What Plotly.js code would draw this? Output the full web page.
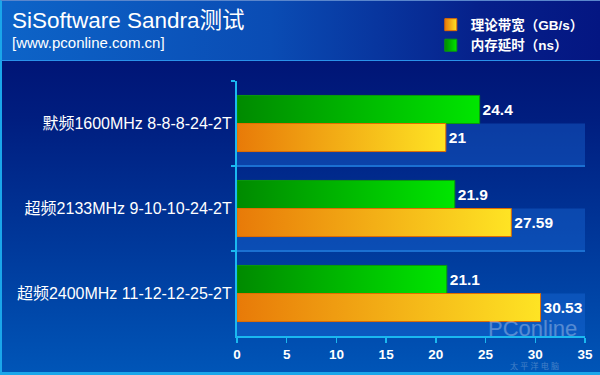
<!DOCTYPE html>
<html><head><meta charset="utf-8">
<script src="https://cdn.plot.ly/plotly-3.0.1.min.js"></script>
<style>
html,body{margin:0;padding:0;width:600px;height:375px;overflow:hidden;}
#bg{position:absolute;left:0;top:0;width:600px;height:375px;box-sizing:border-box;
 background:linear-gradient(180deg,#000c6c 0px,#001e80 120px,#003a9c 250px,#0056b8 375px);
 border-left:2px solid #1aa6ea;border-bottom:3px solid #1aa6ea;border-top:1px solid #5a86cc;}
#hdr{position:absolute;left:0;top:0;width:600px;height:61px;
 background:linear-gradient(90deg,#0d64c8 0%,#0a4cb4 45%,#06208a 80%,#041682 100%);
 border-bottom:1px solid #2a92ea;box-sizing:border-box;border-left:2px solid #1aa6ea;border-top:1px solid #5a86cc;}
#chart{position:absolute;left:0;top:0;width:600px;height:375px;}
</style></head>
<body>
<div id="bg"></div><div id="hdr"></div>
<div id="chart"></div>
<script>
// ---- data ----
var categories = ['默频1600MHz 8-8-8-24-2T', '超频2133MHz 9-10-10-24-2T', '超频2400MHz 11-12-12-25-2T'];
var bandwidthName = '理论带宽（GB/s）';
var bandwidth = [21, 27.59, 30.53];
var latencyName = '内存延时（ns）';
var latency = [24.4, 21.9, 21.1];
var xTicks = [0, 5, 10, 15, 20, 25, 30, 35];
var titleText = 'SiSoftware Sandra测试';
var subtitleText = '[www.pconline.com.cn]';

var FONT = '"Liberation Sans", Arial, "Noto Sans CJK SC", sans-serif';

var traces = [
 {type:'bar', orientation:'h', name:latencyName, y:categories, x:latency,
  text:latency.map(String), textposition:'outside', cliponaxis:false,
  textfont:{color:'#ffffff', size:15.5, family:FONT, weight:'bold'},
  marker:{color:'#00b800', line:{color:'#0b9a0b', width:1}}, legendrank:2},
 {type:'bar', orientation:'h', name:bandwidthName, y:categories, x:bandwidth,
  text:bandwidth.map(String), textposition:'outside', cliponaxis:false,
  textfont:{color:'#ffffff', size:15.5, family:FONT, weight:'bold'},
  marker:{color:'#f4a814', line:{color:'#e26c00', width:1}}, legendrank:1}
];

// decorative lighter bands in the lower half of each category row
var shapes = categories.map(function(c,i){
 return {type:'rect', xref:'x', yref:'y', x0:xTicks[0], x1:xTicks[xTicks.length-1], y0:i, y1:i+0.5,
  fillcolor:'rgba(30,110,220,0.38)', line:{width:0}, layer:'below'};
});

var L = 237, T = 81, W = 348, H = 255;
function px(x){return (x-L)/W;}
function py(y){return (T+H-y)/H;}

var layout = {
 width:600, height:375,
 margin:{l:L, r:600-L-W, t:T, b:375-T-H, autoexpand:false},
 paper_bgcolor:'rgba(0,0,0,0)', plot_bgcolor:'rgba(0,0,0,0)',
 barmode:'group', bargap:0.34, bargroupgap:0,
 font:{family:FONT, color:'#ffffff'},
 showlegend:true,
 legend:{xref:'container', yref:'container', x:0.718, y:0.975, xanchor:'left', yanchor:'top',
  bgcolor:'rgba(0,0,0,0)', font:{size:13.5, color:'#ffffff', family:FONT, weight:'bold'},
  tracegroupgap:0, itemwidth:30},
 xaxis:{range:[xTicks[0], xTicks[xTicks.length-1]], tickvals:xTicks, showgrid:false, zeroline:false,
  showline:true, linecolor:'#1ab8f0', linewidth:2, ticks:'outside', ticklen:5, tickwidth:1.5, tickcolor:'#1ab8f0',
  tickfont:{size:13.5, color:'#ffffff', family:FONT, weight:'bold'}, fixedrange:true},
 yaxis:{type:'category', autorange:'reversed', tickson:'boundaries', showgrid:true, gridcolor:'#1b70d2', gridwidth:1.5,
  showline:true, linecolor:'#1ab8f0', linewidth:2, ticks:'outside', ticklen:4, tickwidth:1.5, tickcolor:'#1ab8f0',
  tickfont:{size:16, color:'#ffffff', family:FONT}, zeroline:false, fixedrange:true},
 shapes:shapes,
 annotations:[
  {xref:'paper', yref:'paper', x:px(10), y:py(21), xanchor:'left', yanchor:'middle', showarrow:false,
   text:titleText, font:{size:22.5, color:'#ffffff', family:FONT}},
  {xref:'paper', yref:'paper', x:px(10), y:py(42), xanchor:'left', yanchor:'middle', showarrow:false,
   text:subtitleText, font:{size:15, color:'#ffffff', family:FONT}},
  {xref:'paper', yref:'paper', x:px(532), y:py(328), xanchor:'center', yanchor:'middle', showarrow:false,
   text:'PConline', opacity:0.3, font:{size:22, color:'#ffffff', family:FONT}},
  {xref:'paper', yref:'paper', x:px(534), y:py(366), xanchor:'center', yanchor:'middle', showarrow:false,
   text:'太 平 洋 电 脑', opacity:0.25, font:{size:8, color:'#ffffff', family:FONT}}
 ]
};

Plotly.newPlot('chart', traces, layout, {displayModeBar:false, staticPlot:true}).then(function(gd){
 var svg = gd.querySelector('svg.main-svg');
 var defs = svg.querySelector('defs');
 var ns = 'http://www.w3.org/2000/svg';
 function grad(id, c0, c1){
  var g = document.createElementNS(ns,'linearGradient');
  g.setAttribute('id', id); g.setAttribute('x1','0'); g.setAttribute('x2','1'); g.setAttribute('y1','0'); g.setAttribute('y2','0');
  [[0,c0],[1,c1]].forEach(function(s){
   var st = document.createElementNS(ns,'stop');
   st.setAttribute('offset', s[0]); st.setAttribute('stop-color', s[1]); g.appendChild(st);
  });
  defs.appendChild(g);
 }
 grad('gGreen','#008a00','#00e600');
 grad('gOrange','#e87a08','#fee424');
 var ids = ['gGreen','gOrange'];
 gd.querySelectorAll('.barlayer .trace').forEach(function(t,i){
  t.querySelectorAll('.point path').forEach(function(p){ p.style.fill = 'url(#'+ids[i]+')'; });
 });
 gd.querySelectorAll('.legend .traces').forEach(function(t){
  var name = t.textContent;
  var id = name.indexOf('GB') >= 0 ? 'gOrange' : 'gGreen';
  t.querySelectorAll('.legendpoints path').forEach(function(p){ p.style.fill = 'url(#'+id+')'; });
 });
});
</script>
</body></html>
